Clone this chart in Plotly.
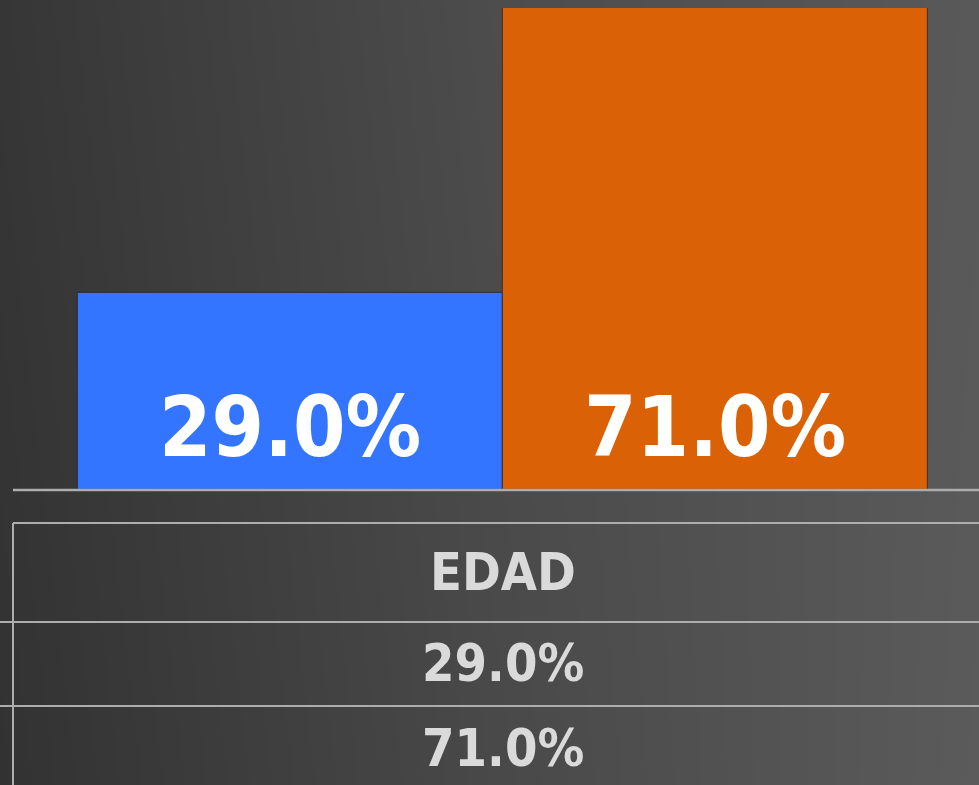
import plotly.graph_objects as go

# data
category = "EDAD"
series = ["MENORES DE 30 AÑOS", "30 AÑOS Y MÁS"]
values = [29.0, 71.0]
bar_colors = ["#3475FF", "#DB6106"]

W, H = 979, 785
FONT = "DejaVu Sans Condensed, Liberation Sans Narrow, sans-serif"
GRID = "#ADADAD"
TEXT = "#DADADA"


def px(x):
    return x / W


def py(y):
    return 1 - y / H


fig = go.Figure()

# gradient background
fig.add_trace(go.Heatmap(
    z=[[0.0, 0.55, 1.0], [0.1, 0.65, 0.95]],
    x=[0, 0.5, 1], y=[0, 1],
    colorscale=[[0, "#323232"], [1, "#5B5B5B"]],
    zsmooth="best", showscale=False, hoverinfo="skip",
    xaxis="x", yaxis="y",
))

for name, val, col in zip(series, values, bar_colors):
    fig.add_trace(go.Bar(
        x=[name], y=[val], name=name,
        marker=dict(color=col, line=dict(color="rgba(40,30,20,0.6)", width=1.2)),
        width=1.0,
        xaxis="x2", yaxis="y2",
        showlegend=False,
    ))
    fig.add_annotation(
        x=name, y=0, xref="x2", yref="y2",
        text=f"<b>{val:.1f}%</b>", showarrow=False,
        xanchor="center", yanchor="bottom", yshift=12,
        font=dict(family=FONT, size=84, color="white"),
    )

# data table
fig.add_annotation(x=px(503), y=py(572), xref="paper", yref="paper",
                   text=f"<b>{category}</b>", showarrow=False,
                   xanchor="center", yanchor="middle",
                   font=dict(family=FONT, size=52, color=TEXT))
row_y = [663, 748]
for val, ry in zip(values, row_y):
    fig.add_annotation(x=px(503), y=py(ry), xref="paper", yref="paper",
                       text=f"<b>{val:.1f}%</b>", showarrow=False,
                       xanchor="center", yanchor="middle",
                       font=dict(family=FONT, size=52, color=TEXT))

lines = [
    (13, 490, 979, 490, 2.5),
    (13, 523, 979, 523, 2),
    (0, 622, 979, 622, 2),
    (0, 706, 979, 706, 2),
    (13, 523, 13, 785, 2),
]
for x0, y0, x1, y1, w in lines:
    fig.add_shape(type="line", xref="paper", yref="paper",
                  x0=px(x0), y0=py(y0), x1=px(x1), y1=py(y1),
                  line=dict(color=GRID, width=w), layer="above")

fig.update_layout(
    width=W, height=H,
    margin=dict(l=0, r=0, t=0, b=0),
    paper_bgcolor="#333333",
    plot_bgcolor="rgba(0,0,0,0)",
    bargap=0, showlegend=False,
    xaxis=dict(domain=[0, 1], range=[0, 1], visible=False, fixedrange=True),
    yaxis=dict(domain=[0, 1], range=[0, 1], visible=False, fixedrange=True),
    xaxis2=dict(domain=[px(13), 1], range=[-0.652, 1.621], visible=False,
                type="category", anchor="y2"),
    yaxis2=dict(domain=[py(490), py(8)], range=[0, 71], visible=False,
                anchor="x2"),
)

fig.write_html("out.html", config={"displayModeBar": False},
               post_script="document.body.style.margin='0';document.body.style.overflow='hidden';")
